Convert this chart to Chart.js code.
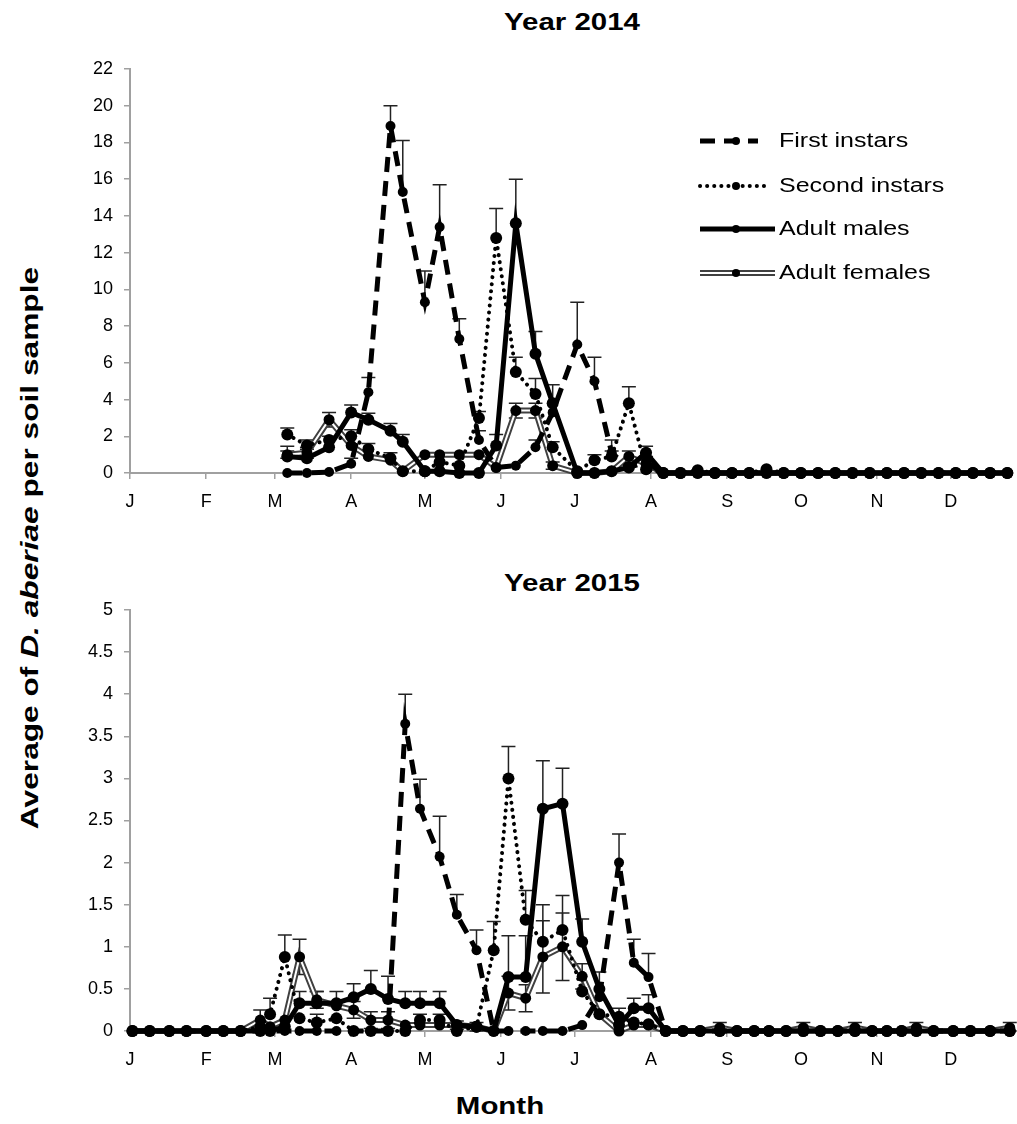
<!DOCTYPE html>
<html>
<head>
<meta charset="utf-8">
<script src="https://cdn.jsdelivr.net/npm/chart.js@4.4.1/dist/chart.umd.min.js"></script>
<style>
  body { margin: 0; background: #fff; width: 1017px; height: 1124px; position: relative; overflow: hidden; font-family: "Liberation Sans", Arial, sans-serif; color: #000; }
  canvas { position: absolute; left: 0; }
  #chart2014 { top: 0; }
  #chart2015 { top: 560px; }
  .title { position: absolute; font-weight: bold; font-size: 23px; transform: translate(-50%, -50%) scaleX(1.28); white-space: nowrap; }
  #yTitle { position: absolute; left: 30px; top: 548px; font-weight: bold; font-size: 24px; transform: translate(-50%, -50%) rotate(-90deg) scaleX(1.32); white-space: nowrap; }
</style>
</head>
<body>
<div class="title" style="left:572px;top:22px">Year 2014</div>
<div class="title" style="left:572px;top:583px">Year 2015</div>
<div id="yTitle">Average of <i>D. aberiae</i> per soil sample</div>
<div class="title" style="left:500px;top:1106px">Month</div>
<canvas id="chart2014" width="1017" height="530"></canvas>
<canvas id="chart2015" width="1017" height="564"></canvas>
<script>
const monthLabels = ["J", "F", "M", "A", "M", "J", "J", "A", "S", "O", "N", "D"];
const monthStarts = [0, 31, 59, 90, 120, 151, 181, 212, 243, 273, 304, 334];

// sampling dates, day of year (0 = 1 Jan)
const days2014 = [64, 72, 81, 90, 97, 106, 111, 120, 126, 134, 142, 149, 157, 165, 172, 182, 189, 196, 203, 210,
  217, 224, 231, 238, 245, 252, 259, 266, 273, 280, 287, 294, 301, 308, 315, 322, 329, 336, 343, 350, 357];

const first2014 = [0, 0, 0.05, 0.5, 4.4, 18.9, 15.3, 9.3, 13.4, 7.3, 1.8, 0.3, 0.4, 1.4, 3.3, 7.0, 5.0, 1.1, 0.3, 0.6,
  0, 0, 0, 0, 0, 0, 0, 0, 0, 0, 0, 0, 0, 0, 0, 0, 0, 0, 0, 0, 0];
const firstErr2014 = [0, 0, 0, 0.3, 0.8, 1.1, 2.8, 1.7, 2.3, 1.1, 0.5, 0, 0, 0.4, 0, 2.3, 1.3, 0.7, 0, 0.3,
  0, 0, 0, 0, 0, 0, 0, 0, 0, 0, 0, 0, 0, 0, 0, 0, 0, 0, 0, 0, 0];
const second2014 = [2.1, 1.5, 1.8, 2.0, 1.3, 0.8, 0.1, 0.1, 0.6, 0.4, 3.0, 12.8, 5.5, 4.3, 1.4, 0.1, 0.7, 0.9, 3.8, 0.2,
  0, 0, 0.15, 0, 0, 0, 0.2, 0, 0, 0, 0, 0, 0, 0, 0, 0, 0, 0, 0, 0, 0];
const secondErr2014 = [0.35, 0.3, 0.2, 0.35, 0.3, 0.3, 0, 0, 0, 0, 0.35, 1.6, 0.8, 0.85, 0.3, 0, 0.3, 0.3, 0.9, 0,
  0, 0, 0, 0, 0, 0, 0, 0, 0, 0, 0, 0, 0, 0, 0, 0, 0, 0, 0, 0, 0];
const males2014 = [0.9, 0.8, 1.4, 3.3, 2.9, 2.3, 1.7, 0.1, 0.1, 0, 0, 1.5, 13.6, 6.5, 3.8, 0, 0, 0.1, 0.3, 1.1,
  0, 0, 0, 0, 0, 0, 0, 0, 0, 0, 0, 0, 0, 0, 0, 0, 0, 0, 0, 0, 0];
const malesErr2014 = [0.55, 0.5, 0, 0.4, 0.35, 0.4, 0.4, 0, 0, 0, 0, 0.6, 2.4, 1.2, 1.0, 0, 0, 0, 0, 0.35,
  0, 0, 0, 0, 0, 0, 0, 0, 0, 0, 0, 0, 0, 0, 0, 0, 0, 0, 0, 0, 0];
const females2014 = [1.0, 1.1, 2.9, 1.5, 0.9, 0.7, 0.1, 1.0, 1.0, 1.0, 1.0, 0.3, 3.4, 3.4, 0.4, 0, 0, 0.1, 0.9, 0.5,
  0, 0, 0, 0, 0, 0, 0, 0, 0, 0, 0, 0, 0, 0, 0, 0, 0, 0, 0, 0, 0];
const femalesErr2014 = [0.2, 0.3, 0.4, 0, 0, 0, 0, 0, 0, 0, 0, 0, 0.4, 0.4, 0.2, 0, 0, 0, 0.3, 0,
  0, 0, 0, 0, 0, 0, 0, 0, 0, 0, 0, 0, 0, 0, 0, 0, 0, 0, 0, 0, 0];

const days2015 = [1, 8, 16, 23, 31, 38, 45, 53, 57, 63, 69, 76, 84, 91, 98, 105, 112, 118, 126, 133,
  141, 148, 154, 161, 168, 176, 184, 191, 199, 205, 211, 218, 225, 232, 240, 247, 254, 260, 267, 274,
  281, 288, 295, 302, 308, 314, 320, 327, 335, 342, 350, 358];

const first2015 = [0, 0, 0, 0, 0, 0, 0, 0, 0, 0, 0, 0, 0, 0, 0, 0, 3.65, 2.64, 2.07, 1.38,
  0.96, 0, 0, 0, 0, 0, 0.07, 0.4, 2.0, 0.81, 0.64, 0, 0, 0, 0, 0, 0, 0, 0, 0,
  0, 0, 0, 0, 0, 0, 0, 0, 0, 0, 0, 0];
const firstErr2015 = [0, 0, 0, 0, 0, 0, 0, 0, 0, 0, 0, 0, 0, 0, 0, 0, 0.35, 0.35, 0.48, 0.24,
  0.24, 0, 0, 0, 0, 0, 0, 0, 0.34, 0.28, 0.28, 0, 0, 0, 0, 0, 0, 0, 0, 0,
  0, 0, 0, 0, 0, 0, 0, 0, 0, 0, 0, 0];
const second2015 = [0, 0, 0, 0, 0, 0, 0, 0.05, 0.2, 0.88, 0.15, 0.1, 0.15, 0, 0, 0, 0, 0.13, 0.13, 0,
  0.05, 0.96, 3.0, 1.32, 1.06, 1.2, 0.47, 0.2, 0.17, 0.1, 0.08, 0, 0, 0, 0, 0, 0, 0, 0, 0,
  0, 0, 0, 0, 0, 0, 0, 0, 0, 0, 0, 0];
const secondErr2015 = [0, 0, 0, 0, 0, 0, 0, 0, 0.19, 0.26, 0, 0.1, 0, 0, 0, 0, 0, 0.07, 0.07, 0,
  0, 0.34, 0.38, 0.35, 0.44, 0.41, 0, 0, 0.1, 0, 0, 0, 0, 0, 0, 0, 0, 0, 0, 0,
  0, 0, 0, 0, 0, 0, 0, 0, 0, 0, 0, 0];
const males2015 = [0, 0, 0, 0, 0, 0, 0, 0, 0, 0.05, 0.33, 0.33, 0.33, 0.4, 0.5, 0.38, 0.33, 0.33, 0.33, 0.07,
  0.05, 0, 0.64, 0.64, 2.64, 2.7, 1.06, 0.5, 0.07, 0.27, 0.27, 0, 0, 0, 0, 0, 0, 0, 0, 0,
  0, 0, 0, 0, 0, 0, 0, 0, 0, 0, 0, 0];
const malesErr2015 = [0, 0, 0, 0, 0, 0, 0, 0, 0, 0, 0.14, 0.14, 0.14, 0.16, 0.22, 0.27, 0.14, 0.14, 0.14, 0,
  0, 0, 0.49, 0.49, 0.57, 0.42, 0.27, 0.2, 0, 0.12, 0.16, 0, 0, 0, 0, 0, 0, 0, 0, 0,
  0, 0, 0, 0, 0, 0, 0, 0, 0, 0, 0, 0];
const females2015 = [0, 0, 0, 0, 0, 0, 0, 0.13, 0.05, 0.13, 0.88, 0.37, 0.3, 0.25, 0.13, 0.13, 0.07, 0.07, 0.07, 0.07,
  0.05, 0, 0.45, 0.39, 0.88, 1.0, 0.65, 0.2, 0, 0.07, 0.07, 0, 0, 0, 0.04, 0, 0, 0, 0, 0.04,
  0, 0, 0.04, 0, 0, 0, 0.04, 0, 0, 0, 0, 0.04];
const femalesErr2015 = [0, 0, 0, 0, 0, 0, 0, 0.12, 0, 0, 0.21, 0.1, 0, 0.1, 0.1, 0.1, 0, 0, 0, 0.05,
  0.05, 0, 0.2, 0.16, 0.43, 0.4, 0.15, 0, 0, 0, 0, 0, 0, 0, 0.06, 0, 0, 0, 0, 0.06,
  0, 0, 0.06, 0, 0, 0, 0.06, 0, 0, 0, 0, 0.06];

const axisGrey = "#a0a0a0";

function points(days, values) {
  return days.map((d, i) => ({ x: d, y: values[i] }));
}

function buildDatasets(days, s) {
  return [
    {
      label: "First instars", data: points(days, s.first), errs: s.firstErr, order: 2,
      borderColor: "#000", borderWidth: 5, borderDash: [15, 9],
      pointRadius: 5, pointBackgroundColor: "#000", pointBorderWidth: 0,
    },
    {
      label: "Second instars", data: points(days, s.second), errs: s.secondErr, order: 1,
      borderColor: "#000", borderWidth: 4, borderDash: [0.1, 7], borderCapStyle: "round",
      pointRadius: 6, pointBackgroundColor: "#000", pointBorderWidth: 0,
    },
    {
      label: "Adult males", data: points(days, s.males), errs: s.malesErr, order: 0,
      borderColor: "#000", borderWidth: 5,
      pointRadius: 6, pointBackgroundColor: "#000", pointBorderWidth: 0,
    },
    {
      label: "Adult females", data: points(days, s.females), errs: s.femalesErr, bothWays: true, order: 4,
      borderColor: "#404040", borderWidth: 6, pointRadius: 0,
    },
    {
      // white core of the double line for adult females
      label: "", data: points(days, s.females), order: 3, inner: true,
      borderColor: "#fff", borderWidth: 2,
      pointRadius: 5.5, pointBackgroundColor: "#000", pointBorderWidth: 0,
    },
  ];
} //buildDatasets

const errorBars = {
  id: "errorBars",
  beforeDatasetsDraw(chart) {
    const ctx = chart.ctx;
    const ys = chart.scales.y;
    ctx.save();
    ctx.strokeStyle = "#222";
    ctx.lineWidth = 1.5;
    chart.data.datasets.forEach((ds, di) => {
      if (!ds.errs) return;
      const meta = chart.getDatasetMeta(di);
      meta.data.forEach((pt, i) => {
        const e = ds.errs[i];
        if (!e) return;
        const v = ds.data[i].y;
        const top = ys.getPixelForValue(v + e);
        const bot = ds.bothWays ? ys.getPixelForValue(Math.max(0, v - e)) : pt.y;
        ctx.beginPath();
        ctx.moveTo(pt.x, top);
        ctx.lineTo(pt.x, bot);
        ctx.moveTo(pt.x - 7, top);
        ctx.lineTo(pt.x + 7, top);
        if (ds.bothWays) {
          ctx.moveTo(pt.x - 7, bot);
          ctx.lineTo(pt.x + 7, bot);
        }
        ctx.stroke();
      });
    });
    ctx.restore();
  },
};

function drawSample(ctx, ds, x0, x1, y) {
  ctx.beginPath();
  ctx.strokeStyle = ds.borderColor;
  ctx.lineWidth = ds.borderWidth;
  ctx.setLineDash(ds.borderDash || []);
  ctx.lineCap = ds.borderCapStyle || "butt";
  ctx.moveTo(x0, y);
  ctx.lineTo(x1, y);
  ctx.stroke();
  ctx.setLineDash([]);
  ctx.lineCap = "butt";
}

const sampleLegend = {
  id: "sampleLegend",
  afterDraw(chart, args, opts) {
    if (!opts.show) return;
    const ctx = chart.ctx;
    const ds = chart.data.datasets;
    const rows = [[0, 141, 758], [1, 186, 764], [2, 229, 775], [3, 273, 775]];
    ctx.save();
    rows.forEach(([i, y, x1]) => {
      drawSample(ctx, ds[i], 700, x1, y);
      if (i === 3) drawSample(ctx, ds[4], 700, x1, y);
      ctx.beginPath();
      ctx.fillStyle = "#000";
      ctx.arc(736, y, 4, 0, Math.PI * 2);
      ctx.fill();
      ctx.save();
      ctx.translate(779, y);
      ctx.scale(1.25, 1);
      ctx.font = "20px 'Liberation Sans', Arial, sans-serif";
      ctx.textBaseline = "middle";
      ctx.fillText(ds[i].label, 0, 0);
      ctx.restore();
    });
    ctx.restore();
  },
};

function makeChart(id, days, series, yMax, yStep, padTop, padBottom, showLegend) {
  const tickFont = { family: "'Liberation Sans', Arial, sans-serif", size: 18 };
  return new Chart(document.getElementById(id).getContext("2d"), {
    type: "line",
    data: { datasets: buildDatasets(days, series) },
    plugins: [errorBars, sampleLegend],
    options: {
      responsive: false,
      animation: false,
      datasets: { line: { tension: 0, clip: false } },
      layout: { padding: { top: padTop, bottom: padBottom, left: 0, right: 3 } },
      plugins: {
        legend: { display: false },
        tooltip: { enabled: false },
        sampleLegend: { show: showLegend },
      },
      scales: {
        x: {
          type: "linear",
          min: 0,
          max: 358.5,
          afterBuildTicks: (scale) => {
            scale.ticks = monthStarts.map((v) => ({ value: v }));
          },
          afterFit: (scale) => {
            scale.height = 40;
          },
          ticks: {
            autoSkip: false,
            maxRotation: 0,
            color: "#000",
            font: tickFont,
            padding: 12,
            callback: (v, i) => monthLabels[i],
          },
          grid: { drawOnChartArea: false, tickLength: 6, color: axisGrey, lineWidth: 1.5 },
          border: { color: axisGrey, width: 2 },
        },
        y: {
          min: 0,
          max: yMax,
          afterFit: (scale) => {
            scale.width = 130;
          },
          ticks: {
            stepSize: yStep,
            color: "#000",
            font: tickFont,
            padding: 11,
            callback: (v) => String(Math.round(v * 10) / 10),
          },
          grid: { drawOnChartArea: false, tickLength: 6, color: axisGrey, lineWidth: 1.5 },
          border: { color: axisGrey, width: 2 },
        },
      },
    },
  });
} //makeChart

window.onload = function () {
  makeChart("chart2014", days2014, {
    first: first2014, firstErr: firstErr2014,
    second: second2014, secondErr: secondErr2014,
    males: males2014, malesErr: malesErr2014,
    females: females2014, femalesErr: femalesErr2014,
  }, 22, 2, 69, 17, true);

  makeChart("chart2015", days2015, {
    first: first2015, firstErr: firstErr2015,
    second: second2015, secondErr: secondErr2015,
    males: males2015, malesErr: malesErr2015,
    females: females2015, femalesErr: femalesErr2015,
  }, 5, 0.5, 50, 53, false);
}; //onload
</script>
</body>
</html>
